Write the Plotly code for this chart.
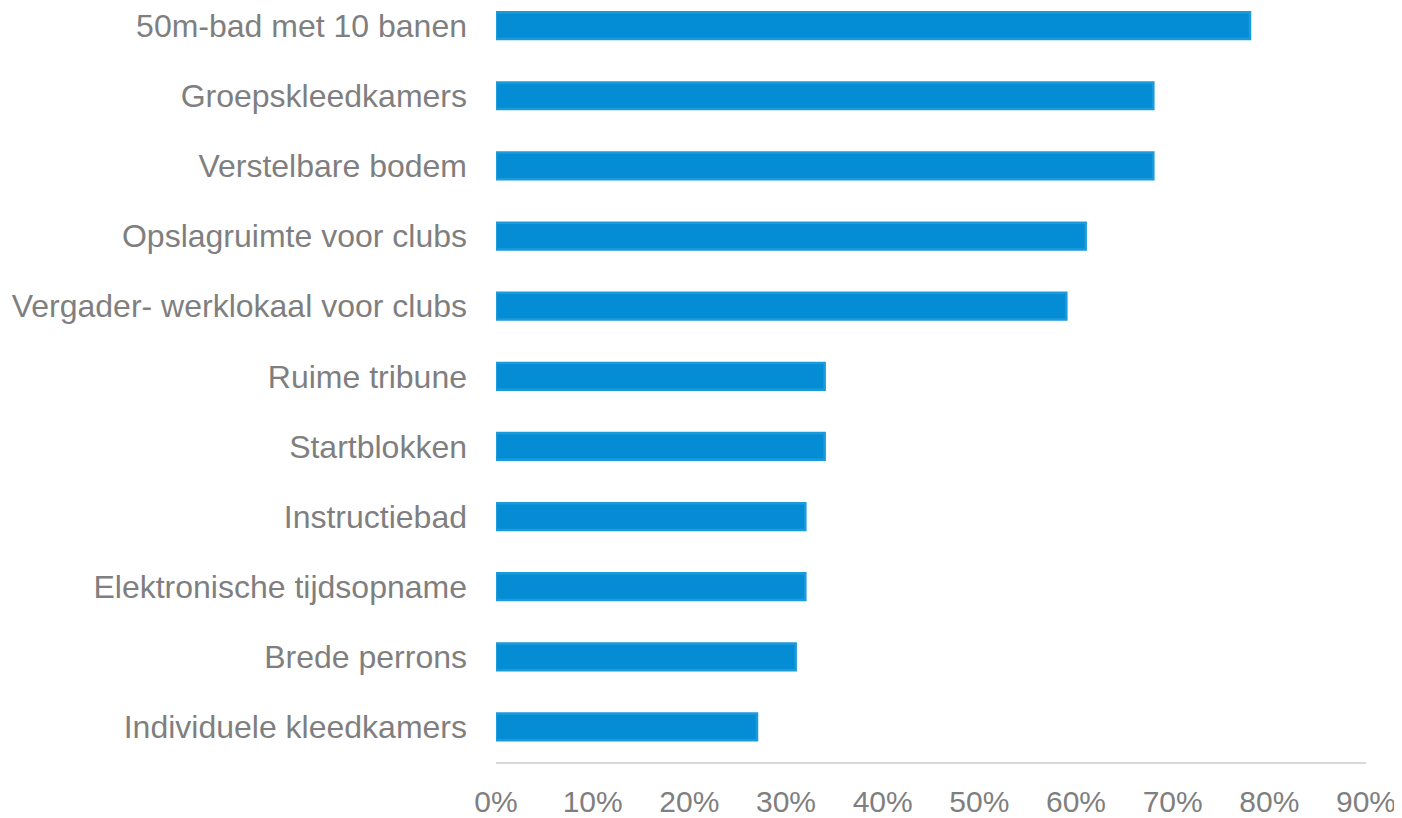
import plotly.graph_objects as go

categories = [
    "50m-bad met 10 banen",
    "Groepskleedkamers",
    "Verstelbare bodem",
    "Opslagruimte voor clubs",
    "Vergader- werklokaal voor clubs",
    "Ruime tribune",
    "Startblokken",
    "Instructiebad",
    "Elektronische tijdsopname",
    "Brede perrons",
    "Individuele kleedkamers",
]
values = [0.78, 0.68, 0.68, 0.61, 0.59, 0.34, 0.34, 0.32, 0.32, 0.31, 0.27]
tick_vals = [0, 0.1, 0.2, 0.3, 0.4, 0.5, 0.6, 0.7, 0.8, 0.9]

cats_bt = categories[::-1]
vals_bt = values[::-1]

fig = go.Figure(go.Bar(
    x=vals_bt,
    y=cats_bt,
    orientation="h",
    width=0.38,
    marker=dict(color="#048cd4", line=dict(color="#1c9bdb", width=2.5)),
    hoverinfo="x+y",
))

fig.update_layout(
    width=1394,
    height=810,
    margin=dict(l=488, r=36, t=0, b=52),
    paper_bgcolor="white",
    plot_bgcolor="white",
    showlegend=False,
    font=dict(family="Liberation Sans, Arial, sans-serif", color="#7f7f7f"),
    xaxis=dict(
        range=[0, 0.9],
        tickvals=tick_vals,
        tickformat=".0%",
        showgrid=False,
        zeroline=False,
        showline=True,
        linecolor="#d9d9d9",
        linewidth=1.5,
        ticks="",
        tickfont=dict(size=30, color="#7f7f7f"),
        ticklabelstandoff=12,
    ),
    yaxis=dict(
        type="category",
        categoryorder="array",
        categoryarray=cats_bt,
        range=[-0.5, 10.252],
        showgrid=False,
        zeroline=False,
        showline=False,
        ticks="",
        tickfont=dict(size=32, color="#7f7f7f"),
        ticklabelstandoff=28,
    ),
)

fig.write_html("out.html")
